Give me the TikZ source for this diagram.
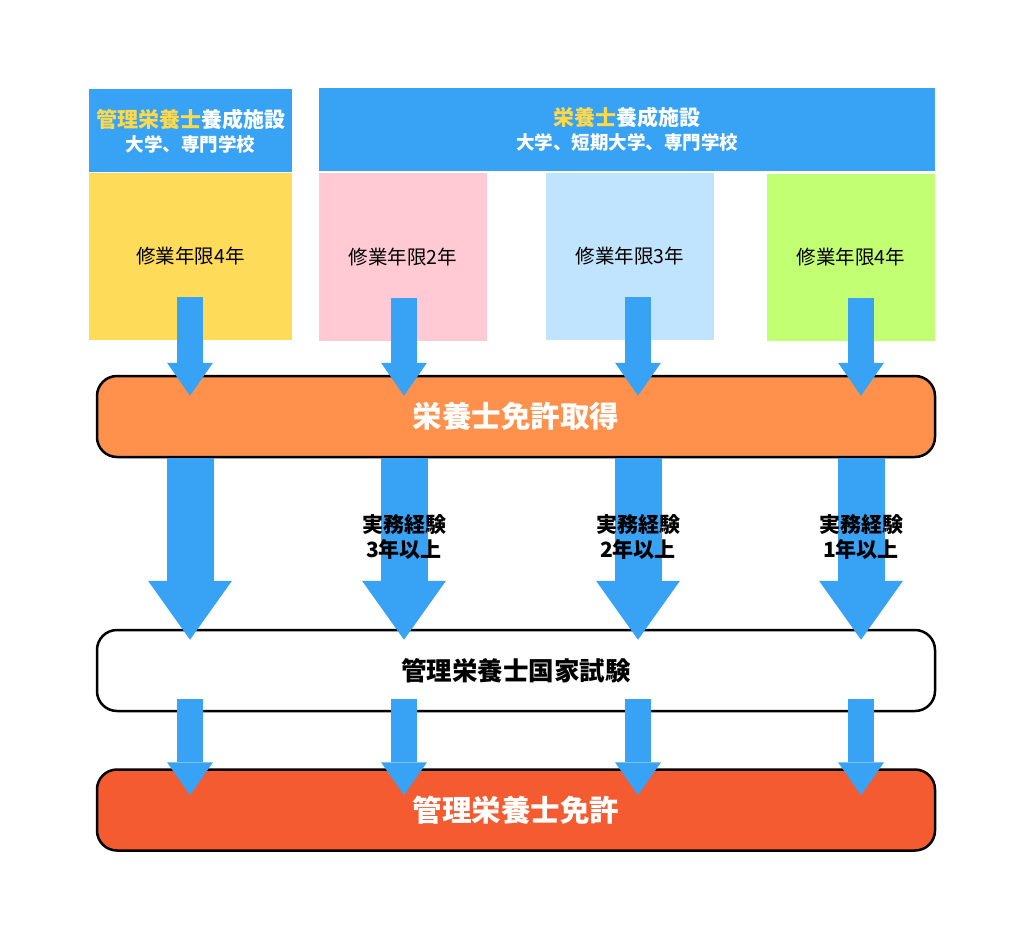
\documentclass[tikz,border=0pt]{standalone}
\usepackage{fontspec}
\setmainfont{Noto Sans CJK JP}
\usetikzlibrary{arrows.meta}
\definecolor{hblue}{HTML}{38A2F4}
\definecolor{ytext}{HTML}{FFD94A}
\definecolor{cyellow}{HTML}{FEDB59}
\definecolor{cpink}{HTML}{FFCAD3}
\definecolor{clblue}{HTML}{C0E4FD}
\definecolor{cgreen}{HTML}{C3FF72}
\definecolor{corange}{HTML}{FF914D}
\definecolor{cred}{HTML}{F45B31}
\begin{document}
\begin{tikzpicture}[x=1pt,y=-1pt,
  hd/.style={fill=hblue,text=white,minimum height=83,inner sep=0pt,align=center,font=\bfseries\fontsize{21}{24}\selectfont},
  col/.style={fill=#1,minimum width=168,minimum height=167,inner sep=0pt,font=\fontsize{19.5}{22}\selectfont},
  stepbox/.style={draw=black,line width=2.5,rounded corners=20,minimum width=838,minimum height=81,inner sep=0pt,font=\bfseries\fontsize{29.5}{32}\selectfont},
  thinarr/.style={draw=hblue,line width=26,-{Triangle[width=46pt,length=33pt,line width=0pt]}},
  bigarr/.style={draw=hblue,line width=47,-{Triangle[width=84pt,length=59pt,line width=0pt]}}]
\useasboundingbox (0,0) rectangle (1024,941);
\node[hd,minimum width=203] (hd1) at (190.5,131) {{\color{ytext}管理栄養士}養成施設\\{\fontsize{18.5}{20}\selectfont 大学、専門学校}};
\node[hd,minimum width=616] (hd2) at (627,129.5) {{\color{ytext}栄養士}養成施設\\{\fontsize{18.5}{20}\selectfont 大学、短期大学、専門学校}};
\node[col=cyellow,minimum width=203] (col1) at (190.5,256.5) {修業年限4年};
\node[col=cpink] (col2) at (403,257) {修業年限2年};
\node[col=clblue] (col3) at (630,256.5) {修業年限3年};
\node[col=cgreen] (col4) at (851,257.5) {修業年限4年};
\node[stepbox,fill=corange,text=white] (lic) at (516,416.5) {栄養士免許取得};
\node[stepbox,fill=white,font=\bfseries\fontsize{25.5}{28}\selectfont] (exam) at (516,670.5) {管理栄養士国家試験};
\node[stepbox,fill=cred,text=white] (fin) at (516,810) {管理栄養士免許};
\foreach \i/\x in {1/190,2/404,3/638,4/861}{
  \coordinate (ax\i) at (\x,537);
  \draw[thinarr] ([yshift=43pt]ax\i |- col\i.south) -- ([yshift=-21pt]ax\i |- lic.north);
  \draw[bigarr] (ax\i |- lic.south) -- ([yshift=-11pt]ax\i |- exam.north);
  \draw[thinarr] ([yshift=13pt]ax\i |- exam.south) -- ([yshift=-27pt]ax\i |- fin.north);
}
\foreach \i/\n in {2/3,3/2,4/1}
  \node[align=center,font=\bfseries\fontsize{21}{25}\selectfont] (exp\i) at (ax\i) {実務経験\\\n 年以上};
\end{tikzpicture}
\end{document}
